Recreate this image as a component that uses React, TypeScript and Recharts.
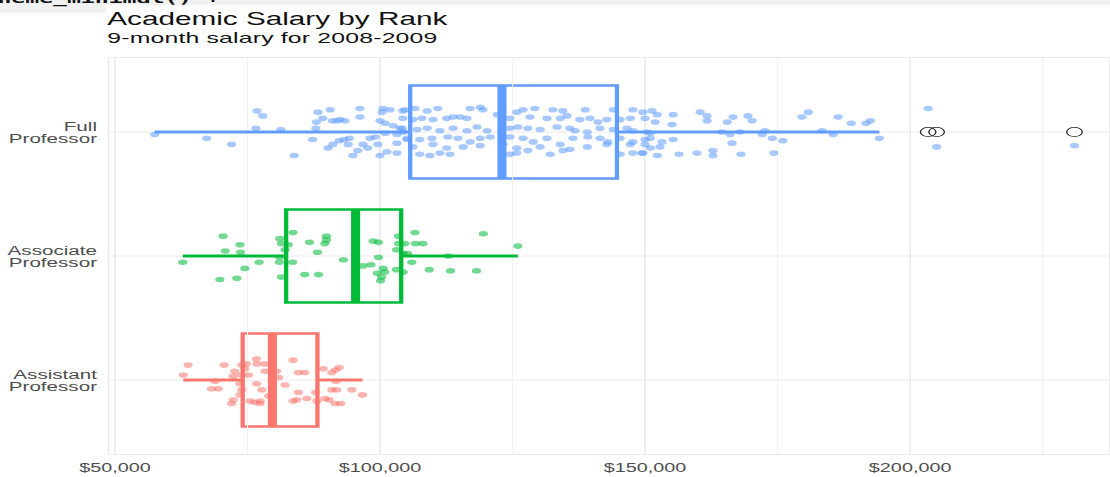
import React from 'react';
import {
  ScatterChart,
  Scatter,
  XAxis,
  YAxis,
  CartesianGrid,
  ReferenceArea,
  ReferenceLine
} from 'recharts';

// the reference screenshot is stretched sideways, so the chart is drawn narrow and scaled
const S = 1.65;
const W = 1110 / S;
const H = 477;
const FONT = '"Liberation Sans", Arial, sans-serif';

const rankLines = [
  ['Assistant', 'Professor'],
  ['Associate', 'Professor'],
  ['Full', 'Professor']
];
const rankColors = ['#F8766D', '#00BA38', '#619CFF'];

// box plot stats, in dollars (assistant, associate, full)
const whiskerLow = [62900, 62800, 57500];
const q1 = [74100, 82300, 105700];
const median = [79700, 95400, 123000];
const q3 = [88200, 104000, 144700];
const whiskerHigh = [96700, 126000, 194200];
const fullOutliers = [203400, 205000, 231000];

const xTicks = [50000, 100000, 150000, 200000];
const xMinor = [75000, 125000, 175000, 225000];

// jittered points: [salary in $k, vertical jitter]
const assistantPoints: [number, number][] = [
  [63.8, 0.12], [62.9, 0.04], [70.6, 0.12], [68.2, -0.07], [69.5, -0.07], [68.9, -0.01],
  [72.6, 0.07], [72.3, 0.03], [73.9, 0.12], [73.9, 0.04], [74.8, 0.13], [75.2, 0.04],
  [73.6, -0.03], [73.9, -0.08], [73.6, -0.12], [72.3, -0.16], [72.0, -0.19], [76.7, 0.17],
  [76.8, 0.13], [78.3, 0.13], [76.7, -0.03], [77.7, -0.08], [75.5, -0.17], [76.4, -0.18],
  [77.4, -0.17], [77.4, -0.19], [78.3, 0.07], [80.5, 0.07], [82.1, -0.04], [83.6, 0.16],
  [84.6, 0.06], [85.8, 0.06], [83.6, -0.17], [84.3, -0.16], [84.6, -0.1], [86.2, -0.15],
  [88.1, -0.17], [87.9, -0.1], [89.6, -0.15], [90.4, -0.16], [89.3, 0.09], [90.9, 0.06],
  [91.6, 0.08], [92.3, 0.1], [91.7, -0.01], [90.9, -0.08], [91.8, -0.08], [91.5, -0.19],
  [92.6, -0.19], [94.7, -0.08], [96.7, -0.12], [74.5, 0.09], [80.9, 0.02], [79.0, -0.13]
];

const associatePoints: [number, number][] = [
  [62.8, -0.05], [70.4, 0.16], [70.8, 0.04], [73.6, 0.09], [73.7, 0.03], [69.8, -0.19],
  [73.0, -0.18], [74.5, -0.1], [77.2, -0.05], [81.1, 0.14], [81.4, 0.1], [81.1, -0.01],
  [81.0, -0.05], [81.4, -0.17], [82.1, 0.05], [82.7, 0.09], [83.6, 0.19], [83.5, -0.05],
  [85.8, -0.15], [86.7, 0.11], [88.4, -0.15], [88.2, 0.03], [89.9, 0.16], [89.9, 0.13],
  [89.6, 0.1], [93.1, -0.03], [96.8, -0.08], [98.3, -0.07], [98.7, 0.12], [99.7, 0.11],
  [99.7, -0.01], [99.5, -0.14], [100.6, -0.1], [100.9, -0.13], [100.3, -0.17], [100.1, -0.2],
  [103.1, -0.11], [104.4, -0.13], [103.5, 0.16], [103.5, 0.1], [103.1, 0.05], [104.7, 0.1],
  [104.4, 0.02], [105.2, 0.02], [106.0, -0.05], [106.6, 0.19], [106.7, 0.1], [108.1, 0.1],
  [109.3, -0.11], [112.9, 0.0], [113.3, -0.12], [118.2, -0.12], [119.5, 0.18], [126.0, 0.08]
];

const fullPoints: [number, number][] = [
  [57.5, -0.02], [67.3, -0.05], [72.0, -0.1], [76.8, 0.17], [77.9, 0.13], [76.6, 0.03],
  [81.3, 0.02], [83.8, -0.19], [87.3, -0.06], [87.9, 0.03], [88.3, 0.16], [90.6, 0.18],
  [89.2, 0.11], [88.0, 0.08], [91.0, 0.09], [92.5, 0.1], [93.4, 0.09], [91.9, 0.09],
  [96.2, 0.19], [96.2, 0.12], [90.2, -0.13], [91.1, -0.1], [92.3, -0.07], [93.2, -0.06],
  [94.2, -0.05], [94.0, -0.1], [96.8, -0.1], [97.7, -0.13], [95.8, -0.15], [94.9, -0.19],
  [98.1, -0.05], [99.1, -0.04], [99.6, -0.1], [100.0, -0.19], [101.3, -0.16], [103.2, -0.17],
  [100.0, 0.09], [101.0, 0.07], [102.5, 0.05], [103.8, 0.03], [100.6, 0.19], [101.9, 0.18],
  [100.4, 0.16], [104.3, 0.17], [101.0, -0.01], [103.2, -0.02], [104.3, 0.0], [105.1, -0.06],
  [103.2, -0.09],
  [104.7, 0.18], [106.6, 0.19], [108.9, 0.17], [110.9, 0.19], [117.0, 0.19], [118.9, 0.2],
  [119.4, 0.18], [125.8, 0.16], [127.0, 0.18], [129.2, 0.19], [132.6, 0.18], [134.5, 0.17],
  [138.7, 0.18], [144.0, 0.18], [147.7, 0.18], [149.6, 0.16],
  [104.3, 0.11], [106.2, 0.1], [107.9, 0.11], [110.0, 0.1], [112.6, 0.11], [113.8, 0.12],
  [115.1, 0.12], [116.4, 0.11], [122.1, 0.14], [124.5, 0.11], [128.3, 0.12], [131.5, 0.11],
  [134.0, 0.11], [135.3, 0.13], [137.7, 0.1], [139.6, 0.11], [141.1, 0.08], [142.8, 0.1],
  [145.3, 0.1], [147.2, 0.11],
  [104.2, 0.03], [107.0, 0.02], [108.9, 0.03], [111.3, 0.01], [113.8, 0.03], [116.4, 0.01],
  [118.3, 0.04], [120.2, 0.01], [124.5, 0.03], [126.0, 0.04], [127.9, 0.03], [130.2, 0.02],
  [133.4, 0.04], [135.8, 0.03], [136.8, 0.01], [139.1, 0.0], [141.5, 0.03], [144.0, 0.02],
  [146.6, 0.03], [147.7, 0.01],
  [105.1, -0.05], [107.5, -0.06], [109.8, -0.05], [112.8, -0.04], [114.7, -0.05], [117.0, -0.08],
  [118.9, -0.05], [120.8, -0.04], [124.5, -0.04], [127.0, -0.05], [128.9, -0.08], [131.5, -0.05],
  [136.4, -0.05], [139.2, -0.04], [141.5, -0.05], [143.0, -0.08], [145.3, -0.05], [147.7, -0.08],
  [106.2, -0.12], [110.0, -0.1], [112.6, -0.13], [115.7, -0.12], [118.9, -0.11], [123.2, -0.1],
  [125.8, -0.13], [130.2, -0.12], [134.0, -0.1], [139.1, -0.12], [142.8, -0.1], [147.2, -0.1],
  [107.5, -0.18], [109.4, -0.19], [111.3, -0.17], [113.2, -0.18], [124.5, -0.18], [125.8, -0.17],
  [127.9, -0.15], [132.1, -0.18], [134.5, -0.15], [135.8, -0.14], [145.3, -0.18], [147.7, -0.17],
  [149.6, -0.17],
  [151.3, 0.17], [152.3, 0.14], [150.0, 0.11], [151.9, 0.08], [155.3, 0.14], [155.1, 0.06],
  [160.4, 0.16], [161.7, 0.13], [161.7, 0.09], [165.5, 0.08], [166.6, 0.12], [169.4, 0.13],
  [170.2, 0.09], [179.6, 0.12], [180.8, 0.16], [186.4, 0.12], [188.9, 0.07], [191.7, 0.07],
  [192.5, 0.09],
  [150.4, 0.0], [151.0, -0.01], [164.5, 0.0], [166.0, -0.02], [167.9, 0.0], [172.1, -0.02],
  [172.6, 0.01], [174.0, -0.05], [183.4, 0.01], [185.5, -0.02], [194.2, -0.05],
  [150.0, -0.06], [151.0, -0.05], [153.2, -0.08], [155.3, -0.06], [152.8, -0.12], [151.0, -0.13],
  [150.0, -0.1], [166.4, -0.09], [176.0, -0.07], [149.4, -0.17], [152.3, -0.19], [156.4, -0.18],
  [159.8, -0.17], [162.8, -0.15], [162.8, -0.19], [168.1, -0.18], [174.3, -0.17],
  [203.4, 0.19], [205.0, -0.12], [231.0, -0.11]
];

const BOX_HALF = 0.375;

const toRows = (pts: [number, number][], rank: number) =>
  pts.map(([k, j]) => ({ salary: k * 1000, y: rank + j }));

const pointSets = [
  toRows(assistantPoints, 1),
  toRows(associatePoints, 2),
  toRows(fullPoints, 3)
];
const outlierRows = fullOutliers.map((v) => ({ salary: v, y: 3 }));

const fmtDollar = (v: number) => '$' + v.toLocaleString('en-US');

function RankTick(props: any) {
  const { x, y, payload } = props;
  const lines = rankLines[payload.value - 1] || [];
  return (
    <text x={x} y={y} textAnchor="end" fill="#4d4d4d" fontSize={12.5} fontFamily={FONT}>
      <tspan x={x} y={y - 0.5}>{lines[0]}</tspan>
      <tspan x={x} y={y + 11.3}>{lines[1]}</tspan>
    </text>
  );
}

export default function App() {
  return (
    <div style={{ position: 'absolute', left: 0, top: 0, width: 1110, height: H, overflow: 'hidden', background: '#fff' }}>
      <div
        style={{
          position: 'absolute',
          left: 0,
          top: 0,
          width: W,
          height: H,
          transform: `scaleX(${S})`,
          transformOrigin: '0 0',
          fontFamily: FONT
        }}
      >
        <div style={{ position: 'absolute', left: 0, top: 0, width: W, height: 5, background: '#f1f1f1' }} />
        <div style={{ position: 'absolute', left: 0, top: 0, width: 64, height: 13, background: '#f1f1f1' }} />
        <div
          style={{
            position: 'absolute',
            left: -10,
            top: -9,
            fontFamily: '"DejaVu Sans Mono", monospace',
            fontWeight: 'bold',
            fontSize: 14,
            lineHeight: '14px',
            whiteSpace: 'pre',
            color: '#111'
          }}
        >
          theme_minimal() +
        </div>
        <div style={{ position: 'absolute', left: 65, top: 11.3, fontSize: 18, lineHeight: '16px', color: '#111', whiteSpace: 'nowrap' }}>
          Academic Salary by Rank
        </div>
        <div style={{ position: 'absolute', left: 65, top: 30.8, fontSize: 15, lineHeight: '14px', letterSpacing: 0.12, color: '#111', whiteSpace: 'nowrap' }}>
          9-month salary for 2008-2009
        </div>
        <div style={{ position: 'absolute', left: 0, top: 0 }}>
          <ScatterChart width={W} height={H} margin={{ top: 57.6, right: 0, bottom: 0, left: 0 }}>
            <CartesianGrid stroke="#ebebeb" strokeWidth={1} />
            {xMinor.map((v) => (
              <ReferenceLine key={'m' + v} x={v} stroke="#f2f2f2" strokeWidth={0.7} />
            ))}
            <XAxis
              type="number"
              dataKey="salary"
              domain={[48800, 237700]}
              allowDataOverflow
              ticks={xTicks}
              tickFormatter={fmtDollar}
              axisLine={false}
              tickLine={false}
              tickSize={0}
              tickMargin={9}
              height={22.6}
              tick={{ fill: '#4d4d4d', fontSize: 12, fontFamily: FONT }}
            />
            <YAxis
              type="number"
              dataKey="y"
              domain={[0.4, 3.6]}
              allowDataOverflow
              ticks={[1, 2, 3]}
              axisLine={false}
              tickLine={false}
              tickSize={0}
              tickMargin={7}
              width={65.8}
              tick={<RankTick />}
            />
            {rankColors.map((c, i) => (
              <ReferenceArea
                key={'box' + i}
                x1={q1[i]}
                x2={q3[i]}
                y1={i + 1 - BOX_HALF}
                y2={i + 1 + BOX_HALF}
                fill="none"
                fillOpacity={0}
                stroke={c}
                strokeWidth={2.6}
              />
            ))}
            {rankColors.map((c, i) => (
              <ReferenceLine
                key={'wl' + i}
                segment={[{ x: whiskerLow[i], y: i + 1 }, { x: q1[i], y: i + 1 }]}
                stroke={c}
                strokeWidth={2.8}
              />
            ))}
            {rankColors.map((c, i) => (
              <ReferenceLine
                key={'wh' + i}
                segment={[{ x: q3[i], y: i + 1 }, { x: whiskerHigh[i], y: i + 1 }]}
                stroke={c}
                strokeWidth={2.8}
              />
            ))}
            {rankColors.map((c, i) => (
              <ReferenceLine
                key={'med' + i}
                segment={[{ x: median[i], y: i + 1 - BOX_HALF }, { x: median[i], y: i + 1 + BOX_HALF }]}
                stroke={c}
                strokeWidth={5.5}
              />
            ))}
            {pointSets.map((rows, i) => (
              <Scatter
                key={'pts' + i}
                data={rows}
                isAnimationActive={false}
                shape={(p: any) => (
                  <circle cx={p.cx} cy={p.cy} r={2.8} fill={rankColors[i]} fillOpacity={0.55} />
                )}
              />
            ))}
            <Scatter
              data={outlierRows}
              isAnimationActive={false}
              shape={(p: any) => (
                <circle cx={p.cx} cy={p.cy} r={4.7} fill="none" stroke="#222" strokeWidth={0.8} />
              )}
            />
          </ScatterChart>
        </div>
      </div>
    </div>
  );
}
